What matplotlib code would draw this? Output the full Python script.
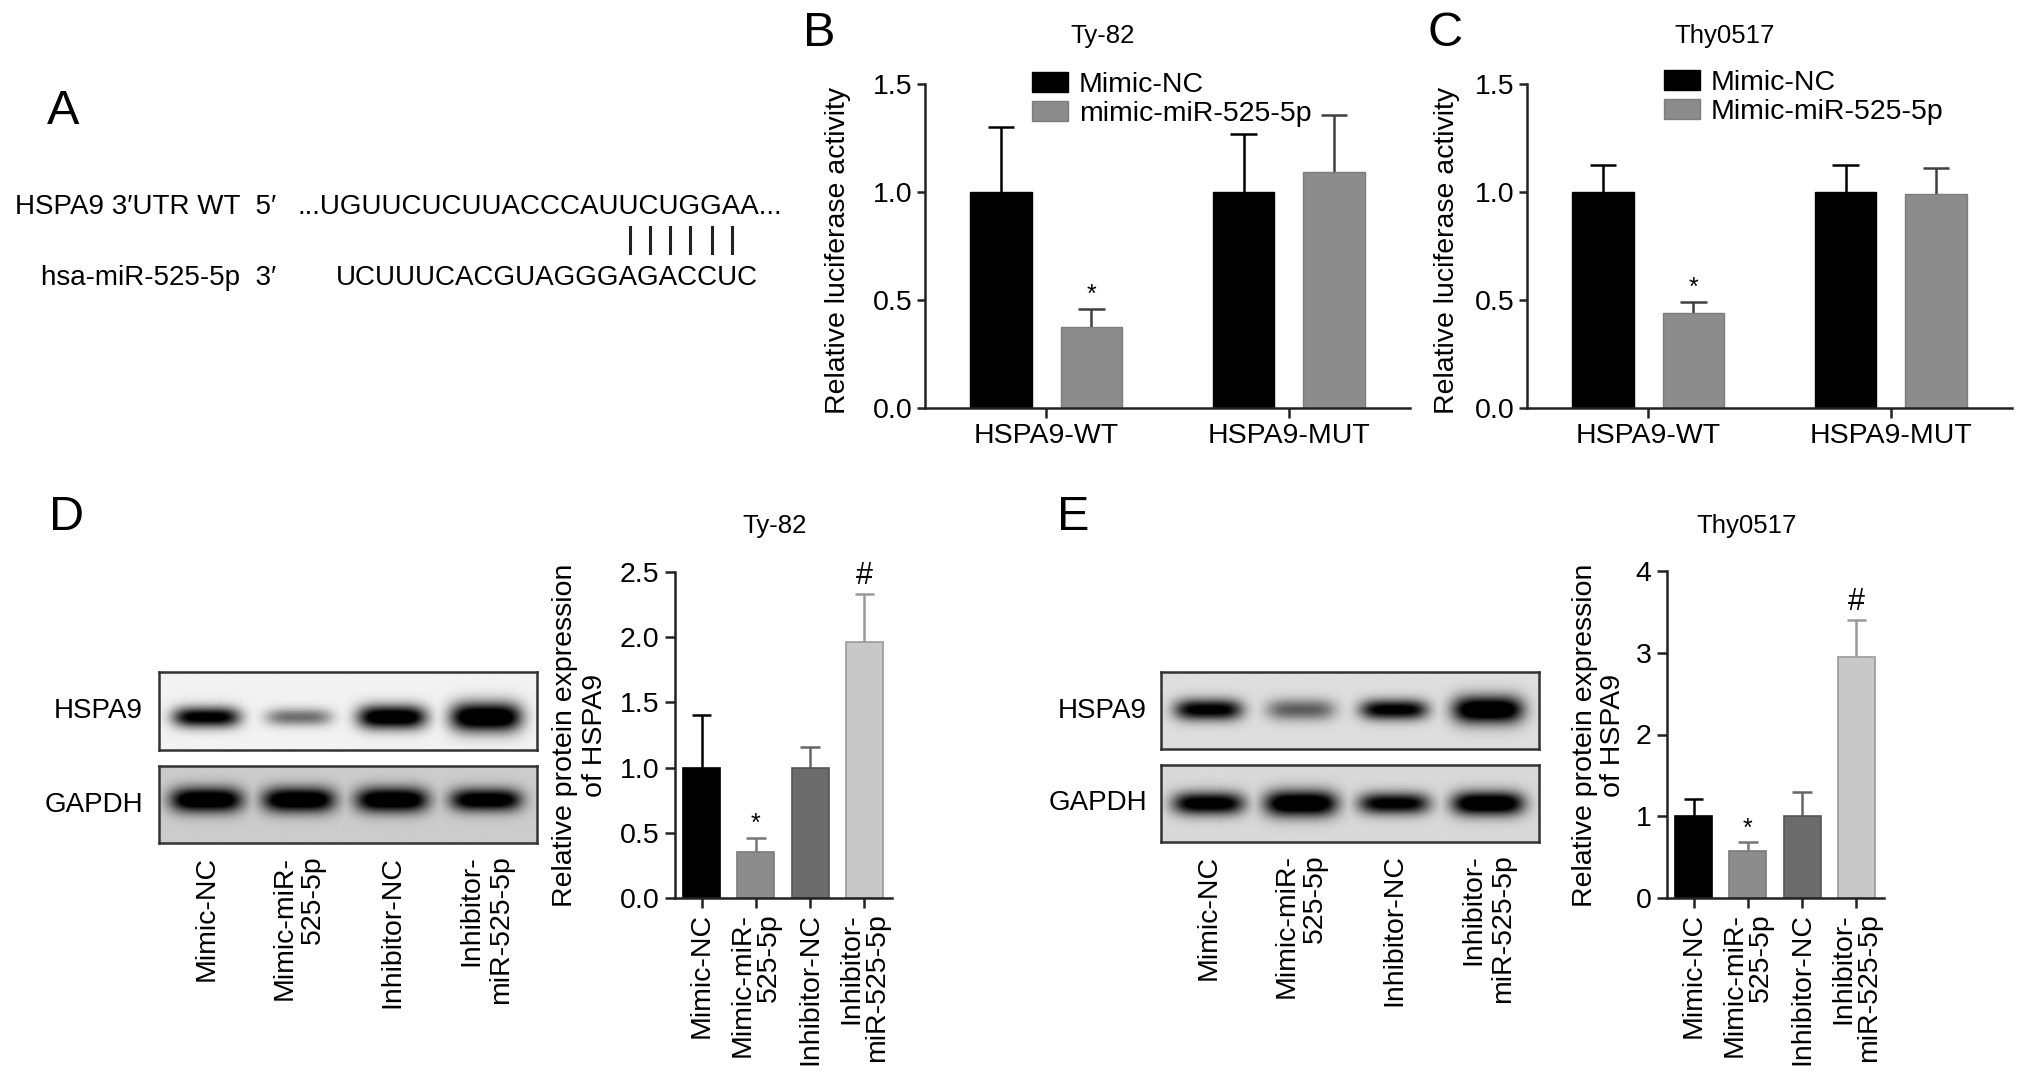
import numpy as np
import matplotlib
matplotlib.use('Agg')
import matplotlib.pyplot as plt
from matplotlib.lines import Line2D

plt.rcParams['font.family'] = ['Liberation Sans', 'DejaVu Sans']

# ---- data ----
groups = ['HSPA9-WT', 'HSPA9-MUT']
ty82_nc = [1.0, 1.0]
ty82_nc_err = [0.30, 0.27]
ty82_mimic = [0.375, 1.094]
ty82_mimic_err = [0.085, 0.263]
thy_nc = [1.0, 1.0]
thy_nc_err = [0.126, 0.125]
thy_mimic = [0.44, 0.99]
thy_mimic_err = [0.05, 0.12]

wb_groups = ['Mimic-NC', 'Mimic-miR-\n525-5p', 'Inhibitor-NC', 'Inhibitor-\nmiR-525-5p']
ty82_prot = [1.0, 0.355, 1.0, 1.96]
ty82_prot_err = [0.40, 0.105, 0.16, 0.37]
thy_prot = [1.0, 0.57, 1.0, 2.95]
thy_prot_err = [0.21, 0.11, 0.30, 0.45]

ty82_hspa9_band = [0.85, 0.42, 0.95, 1.0]
ty82_hspa9_size = [0.95, 0.8, 1.1, 1.35]
ty82_gapdh_band = [1.0, 1.0, 1.0, 0.95]
ty82_gapdh_size = [1.1, 1.1, 1.1, 1.0]
thy_hspa9_band = [0.85, 0.45, 0.85, 1.0]
thy_hspa9_size = [1.0, 1.0, 0.95, 1.3]
thy_gapdh_band = [0.9, 1.0, 0.85, 1.0]
thy_gapdh_size = [1.0, 1.15, 0.95, 1.05]

seq_wt = '...UGUUCUCUUACCCAUUCUGGAA...'
seq_mir = 'UCUUUCACGUAGGGAGACCUC'
pair_idx = [15, 16, 17, 18, 19, 20]   # paired letters of UGUU...GGAA (without the dots)

W, H = 2032, 1083
fig = plt.figure(figsize=(W / 100, H / 100), dpi=100)


def box(x0, y0, x1, y1):
    return [x0 / W, 1 - y1 / H, (x1 - x0) / W, (y1 - y0) / H]


def ftext(x, y, s, **kw):
    return fig.text(x / W, 1 - y / H, s, **kw)


def style_axis(ax):
    for s in ['top', 'right']:
        ax.spines[s].set_visible(False)
    for s in ['left', 'bottom']:
        ax.spines[s].set_linewidth(1.8)
        ax.spines[s].set_color('#222222')
    ax.tick_params(axis='y', labelsize=20.5, width=1.8, length=6, pad=3, color='#222222')
    ax.tick_params(axis='x', width=1.8, length=7, pad=4, color='#222222')


# ---- panel letters ----
for lab, x, y in [('A', 47, 112), ('B', 803, 33), ('C', 1428, 33), ('D', 49, 517), ('E', 1057, 517)]:
    ftext(x, y, lab, fontsize=35, ha='left', va='center')

# ---- panel A ----
fs_a = 20
ftext(276, 207, 'HSPA9 3\u2032UTR WT  5\u2032', fontsize=fs_a, ha='right', va='center')
ftext(276, 278, 'hsa-miR-525-5p  3\u2032', fontsize=fs_a, ha='right', va='center')
t1 = ftext(298, 207, seq_wt, fontsize=fs_a, ha='left', va='center')
renderer = fig.canvas.get_renderer()
prop = t1.get_fontproperties()


def tw(s):
    if not s:
        return 0.0
    return renderer.get_text_width_height_descent(s, prop, ismath=False)[0]


pair_x = [298 + tw(seq_wt[:i + 3]) + tw(seq_wt[i + 3]) / 2 for i in pair_idx]
mir_x = 298 + tw(seq_wt[:pair_idx[0] + 3]) - tw(seq_mir[:14])
ftext(mir_x, 278, seq_mir, fontsize=fs_a, ha='left', va='center')
for px in pair_x:
    fig.add_artist(Line2D([px / W, px / W], [1 - 227 / H, 1 - 253 / H],
                          transform=fig.transFigure, color='#222222', lw=2.2))


# ---- panels B and C ----
def luc_panel(rect, nc, nc_err, mm, mm_err, mm_label, title, title_x, ylab_x, leg_x, leg_y):
    ax = fig.add_axes(box(*rect))
    style_axis(ax)
    x = np.arange(len(groups))
    off, bw, cw = 0.186, 0.253, 0.055
    ax.bar(x - off, nc, bw, color='black', edgecolor='black', lw=1, zorder=2, label='Mimic-NC')
    ax.bar(x + off, mm, bw, color='#8c8c8c', edgecolor='#7c7c7c', lw=1, zorder=2, label=mm_label)
    top_nc = np.array(nc) + np.array(nc_err)
    top_mm = np.array(mm) + np.array(mm_err)
    ax.vlines(x - off, nc, top_nc, color='black', lw=1.8, zorder=1)
    ax.hlines(top_nc, x - off - cw, x - off + cw, color='black', lw=1.8, zorder=1)
    ax.vlines(x + off, mm, top_mm, color='#404040', lw=1.8, zorder=1)
    ax.hlines(top_mm, x + off - cw, x + off + cw, color='#404040', lw=1.8, zorder=1)
    ax.annotate('*', xy=(x[0] + off, top_mm[0]), xytext=(0, 10), textcoords='offset points',
                ha='center', va='center', fontsize=18)
    ax.set_xlim(-0.5, 1.5)
    ax.set_ylim(0, 1.5)
    ax.set_yticks([0, 0.5, 1.0, 1.5])
    ax.set_yticklabels(['0.0', '0.5', '1.0', '1.5'])
    ax.set_xticks(x)
    ax.set_xticklabels(groups, fontsize=20.5)
    ax.legend(loc='upper left', bbox_to_anchor=(leg_x / W, 1 - leg_y / H), bbox_transform=fig.transFigure,
              frameon=False, fontsize=20.5, borderpad=0, borderaxespad=0, handlelength=1.25,
              handleheight=0.7, handletextpad=0.4, labelspacing=0.12)
    ftext(title_x, 36, title, fontsize=18.5, ha='center', va='center')
    ftext(ylab_x, 250, 'Relative luciferase activity', fontsize=20.5, rotation=90, ha='center', va='center')
    return ax


luc_panel((925, 84, 1410, 408), ty82_nc, ty82_nc_err, ty82_mimic, ty82_mimic_err,
          'mimic-miR-525-5p', 'Ty-82', 1103, 838, 1032, 72)
luc_panel((1527, 84, 2012, 408), thy_nc, thy_nc_err, thy_mimic, thy_mimic_err,
          'Mimic-miR-525-5p', 'Thy0517', 1725, 1447, 1664, 70)


# ---- western blots ----
lane_pos = [0.125, 0.37, 0.617, 0.866]


def blot(rect, bands, sizes, bg, cy, thick, width):
    ax = fig.add_axes(box(*rect))
    nx, ny = 400, 90
    xx, yy = np.meshgrid(np.linspace(0, 1, nx), np.linspace(0, 1, ny))
    dark = np.zeros_like(xx)
    for c, a, sz in zip(lane_pos, bands, sizes):
        w = width * (0.85 + 0.15 * sz)
        t = thick * sz
        prof = np.exp(-((xx - c) / w) ** 4 - ((yy - cy) / t) ** 2)
        dark = np.maximum(dark, a * prof)
    img = bg * (1 - np.clip(1.3 * dark, 0, 1))
    ax.imshow(img, cmap='gray', vmin=0, vmax=1, extent=[0, 1, 0, 1], origin='lower',
              aspect='auto', interpolation='bilinear')
    ax.set_xlim(0, 1)
    ax.set_ylim(0, 1)
    for s in ax.spines.values():
        s.set_linewidth(1.8)
        s.set_color('#333333')
    ax.set_yticks([])
    ax.set_xticks([])
    return ax


def blot_panel(x0, x1, hy, gy, lab_x, hspa9, hsz, gapdh, gsz, bg_h, bg_g, cy_h, cy_g):
    blot((x0, hy[0], x1, hy[1]), hspa9, hsz, bg_h, cy_h, 0.14, 0.09)
    axg = blot((x0, gy[0], x1, gy[1]), gapdh, gsz, bg_g, cy_g, 0.15, 0.095)
    axg.set_xticks(lane_pos)
    axg.set_xticklabels(wb_groups, rotation=90, ha='center', va='top', multialignment='right',
                        fontsize=20.5, linespacing=1.15)
    axg.tick_params(axis='x', length=0, pad=9)
    ftext(lab_x, (hy[0] + hy[1]) / 2, 'HSPA9', fontsize=20, ha='right', va='center')
    ftext(lab_x, (gy[0] + gy[1]) / 2, 'GAPDH', fontsize=20, ha='right', va='center')


blot_panel(159, 537, (672, 750), (766, 843), 143, ty82_hspa9_band, ty82_hspa9_size,
           ty82_gapdh_band, ty82_gapdh_size, 0.95, 0.80, 0.42, 0.56)
blot_panel(1161, 1539, (672, 749), (765, 842), 1147, thy_hspa9_band, thy_hspa9_size,
           thy_gapdh_band, thy_gapdh_size, 0.87, 0.85, 0.51, 0.50)


# ---- panels D / E bar charts ----
bar_cols = ['#000000', '#8c8c8c', '#6b6b6b', '#c8c8c8']
edge_cols = ['#000000', '#7a7a7a', '#555555', '#9a9a9a']
err_cols = ['#000000', '#777777', '#666666', '#999999']


def prot_panel(rect, vals, errs, ymax, yticks, ylabels, title, title_x, ylab_x):
    ax = fig.add_axes(box(*rect))
    style_axis(ax)
    x = np.arange(len(vals))
    ax.bar(x, vals, 0.68, color=bar_cols, edgecolor=edge_cols, lw=1.2, zorder=2)
    tops = np.array(vals) + np.array(errs)
    for xi, v, tp, ec in zip(x, vals, tops, err_cols):
        ax.vlines(xi, v, tp, color=ec, lw=1.8, zorder=1)
        ax.hlines(tp, xi - 0.18, xi + 0.18, color=ec, lw=1.8, zorder=1)
    ax.annotate('*', xy=(x[1], tops[1]), xytext=(0, 10), textcoords='offset points',
                ha='center', va='center', fontsize=18)
    ax.annotate('#', xy=(x[3], tops[3]), xytext=(0, 13), textcoords='offset points',
                ha='center', va='center', fontsize=22)
    ax.set_xlim(-0.49, 3.51)
    ax.set_ylim(0, ymax)
    ax.set_yticks(yticks)
    ax.set_yticklabels(ylabels)
    ax.tick_params(axis='y', length=7, pad=4)
    ax.set_xticks(x)
    ax.set_xticklabels(wb_groups, rotation=90, ha='center', va='top', multialignment='right',
                       fontsize=20.5, linespacing=1.0)
    ftext(title_x, 526, title, fontsize=18.5, ha='center', va='center')
    ftext(ylab_x, 735, 'Relative protein expression\nof HSPA9', fontsize=20.5, rotation=90,
          ha='center', va='center', multialignment='center', linespacing=1.15)
    return ax


prot_panel((675, 572, 892, 898), ty82_prot, ty82_prot_err, 2.5, [0, 0.5, 1.0, 1.5, 2.0, 2.5],
           ['0.0', '0.5', '1.0', '1.5', '2.0', '2.5'], 'Ty-82', 775, 580)
prot_panel((1667, 571, 1884, 898), thy_prot, thy_prot_err, 4, [0, 1, 2, 3, 4],
           ['0', '1', '2', '3', '4'], 'Thy0517', 1747, 1599)

fig.savefig('out.png', dpi=100)
